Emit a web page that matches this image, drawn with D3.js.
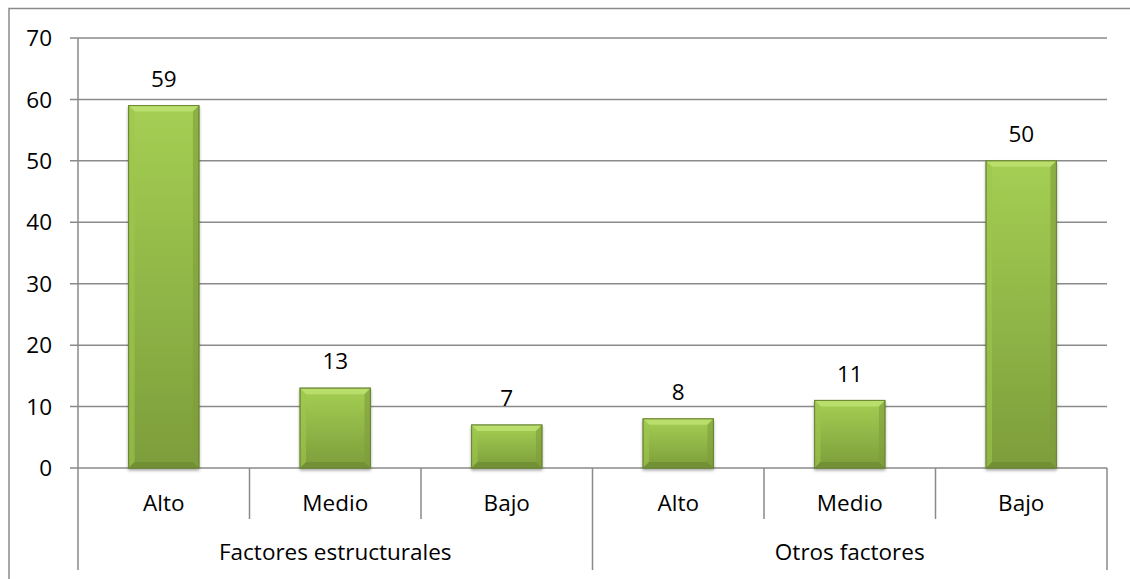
<!DOCTYPE html>
<html><head><meta charset="utf-8">
<script src="https://cdn.jsdelivr.net/npm/d3@7"></script>
<style>body{margin:0;background:#fff}svg{display:block}text{font-family:"Open Sans",sans-serif;fill:#000}</style>
</head><body><svg id="c" width="1130" height="579"></svg>
<script>
const groups = ["Factores estructurales", "Otros factores"];
const levels = ["Alto", "Medio", "Bajo"];
const values = [59, 13, 7, 8, 11, 50];
const yTicks = [0, 10, 20, 30, 40, 50, 60, 70];

const svg = d3.select("#c");
const m = {l: 78, r: 1107, t: 38, b: 468};
const fs = 22.5;
const x = d3.scaleBand().domain(d3.range(values.length)).range([m.l, m.r]).paddingInner(0).paddingOuter(0);
const y = d3.scaleLinear().domain([0, 70]).range([m.b, m.t]);
const grid = "#8a8a8a";

// outer border
svg.append("rect").attr("x", 9).attr("y", 8.5).attr("width", 1140).attr("height", 600)
  .attr("fill", "none").attr("stroke", grid).attr("stroke-width", 1.5);

const defs = svg.append("defs");
const g1 = defs.append("linearGradient").attr("id", "gf").attr("x1", 0).attr("y1", 0).attr("x2", 0).attr("y2", 1);
g1.append("stop").attr("offset", "0%").attr("stop-color", "#a4cf53");
g1.append("stop").attr("offset", "100%").attr("stop-color", "#7d9d3b");
const f = defs.append("filter").attr("id", "sh").attr("x", "-20%").attr("y", "-10%").attr("width", "140%").attr("height", "130%");
f.append("feDropShadow").attr("dx", 0).attr("dy", 2).attr("stdDeviation", 1.5).attr("flood-color", "#000").attr("flood-opacity", 0.35);

// gridlines + ticks
yTicks.forEach(t => {
  svg.append("line").attr("x1", m.l - 8).attr("x2", m.r).attr("y1", y(t)).attr("y2", y(t))
    .attr("stroke", grid).attr("stroke-width", 1.5);
  svg.append("text").attr("x", 52).attr("y", y(t)).attr("dy", "0.36em").attr("text-anchor", "end")
    .attr("font-size", fs).text(t);
});
// y axis line
svg.append("line").attr("x1", m.l).attr("x2", m.l).attr("y1", m.t).attr("y2", 570).attr("stroke", grid).attr("stroke-width", 1.5);
// category dividers
d3.range(1, values.length + 1).forEach(i => {
  const xx = m.l + x.step() * i;
  const major = i % levels.length === 0;
  svg.append("line").attr("x1", xx).attr("x2", xx).attr("y1", m.b).attr("y2", major ? 570 : 519)
    .attr("stroke", grid).attr("stroke-width", 1.5);
});

// bars
const bw = x.bandwidth() * 0.41;
const bev = 6;
const bars = svg.append("g");
values.forEach((v, i) => {
  const cx = x(i) + x.bandwidth() / 2;
  const x0 = cx - bw / 2, x1 = cx + bw / 2, y0 = y(v), y1 = y(0);
  const g = bars.append("g");
  g.append("rect").attr("x", x0).attr("y", y0).attr("width", bw).attr("height", y1 - y0)
    .attr("fill", "url(#gf)").attr("stroke", "#6b8734").attr("stroke-width", 1).attr("filter", "url(#sh)");
  const b = Math.min(bev, (y1 - y0) / 2);
  g.append("polygon").attr("points", [[x0, y0], [x1, y0], [x1 - b, y0 + b], [x0 + b, y0 + b]].join(" "))
    .attr("fill", "#bde06f").attr("opacity", 0.9);
  g.append("polygon").attr("points", [[x0, y0], [x0 + b, y0 + b], [x0 + b, y1 - b], [x0, y1]].join(" "))
    .attr("fill", "#9fc64f").attr("opacity", 0.6);
  g.append("polygon").attr("points", [[x1, y0], [x1 - b, y0 + b], [x1 - b, y1 - b], [x1, y1]].join(" "))
    .attr("fill", "#7e9d3c").attr("opacity", 0.6);
  g.append("polygon").attr("points", [[x0, y1], [x0 + b, y1 - b], [x1 - b, y1 - b], [x1, y1]].join(" "))
    .attr("fill", "#6f8c33").attr("opacity", 0.8);
  g.append("rect").attr("x", x0).attr("y", y0).attr("width", bw).attr("height", y1 - y0)
    .attr("fill", "none").attr("stroke", "#6b8734").attr("stroke-width", 1);
  svg.append("text").attr("x", cx).attr("y", y0 - 27).attr("dy", "0.36em").attr("text-anchor", "middle")
    .attr("font-size", fs).text(v);
});

// category labels
values.forEach((v, i) => {
  svg.append("text").attr("x", x(i) + x.bandwidth() / 2).attr("y", 503).attr("dy", "0.36em")
    .attr("text-anchor", "middle").attr("font-size", fs).text(levels[i % levels.length]);
});
groups.forEach((gname, gi) => {
  const a = x(gi * levels.length), bEnd = x(gi * levels.length + levels.length - 1) + x.bandwidth();
  svg.append("text").attr("x", (a + bEnd) / 2).attr("y", 552).attr("dy", "0.36em")
    .attr("text-anchor", "middle").attr("font-size", fs).text(gname);
});
</script></body></html>
